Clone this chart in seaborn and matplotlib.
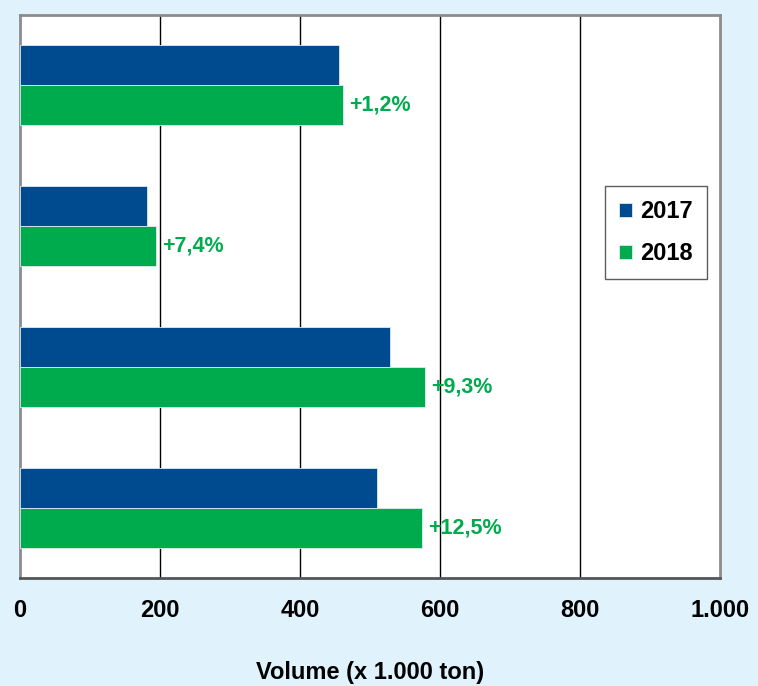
import pandas as pd
import matplotlib
matplotlib.use("Agg")
import matplotlib.pyplot as plt
import seaborn as sns

# Datos (de arriba hacia abajo)
categorias = ["cat1", "cat2", "cat3", "cat4"]
vol_2017 = [456, 181, 529, 510]
vol_2018 = [461, 194, 578, 574]
etiquetas = ["+1,2%", "+7,4%", "+9,3%", "+12,5%"]
ticks_x = [0, 200, 400, 600, 800, 1000]
ticks_txt = ["0", "200", "400", "600", "800", "1.000"]

azul = "#004A8F"
verde = "#00AB4E"
fondo = "#E0F2FC"

df = pd.DataFrame({
    "categoria": categorias * 2,
    "volumen": vol_2017 + vol_2018,
    "anio": ["2017"] * 4 + ["2018"] * 4,
})

sns.set_style("white")
plt.rcParams["font.family"] = ["Liberation Sans", "DejaVu Sans"]
plt.rcParams["font.weight"] = "bold"
plt.rcParams["text.color"] = "black"
plt.rcParams["xtick.color"] = "black"
plt.rcParams["axes.labelcolor"] = "black"

fig = plt.figure(figsize=(7.58, 6.86), dpi=100, facecolor=fondo)
ax = fig.add_axes([20 / 758, 1 - 578 / 686, 700 / 758, 563 / 686])
ax.set_facecolor("white")

sns.barplot(data=df, y="categoria", x="volumen", hue="anio", orient="h",
            palette=[azul, verde], saturation=1, width=0.57,
            edgecolor="#d8ecf4", linewidth=0.6, ax=ax, zorder=3)

# Etiquetas de crecimiento junto a las barras de 2018
for i, (v, t) in enumerate(zip(vol_2018, etiquetas)):
    ax.text(v + 9, i + 0.1425, t, color=verde, fontsize=15.5, fontweight="bold",
            va="center", ha="left", zorder=4)

ax.set_xlim(0, 1000)
ax.set_ylim(3.5, -0.5)
ax.set_xticks(ticks_x)
ax.set_xticklabels(ticks_txt, fontsize=17, fontweight="bold", color="black")
ax.set_yticks([])
ax.set_ylabel("")
ax.set_xlabel("Volume (x 1.000 ton)", fontsize=17, fontweight="bold",
              color="black", labelpad=28)
ax.tick_params(axis="x", direction="out", length=7, width=1, color="#333333", pad=8)

for x in ticks_x[1:-1]:
    ax.axvline(x, color="black", lw=1, zorder=1)

for lado in ["left", "top", "right"]:
    ax.spines[lado].set_color("#8c8c8c")
    ax.spines[lado].set_linewidth(2)
ax.spines["bottom"].set_color("#555555")
ax.spines["bottom"].set_linewidth(2)

leg = ax.legend(loc="upper left", bbox_to_anchor=(605 / 758, 1 - 186 / 686),
                bbox_transform=fig.transFigure, frameon=True, fancybox=False,
                edgecolor="#333333", fontsize=17, handlelength=0.55,
                handleheight=0.55, handletextpad=0.35, labelspacing=0.8,
                borderpad=0.6, borderaxespad=0, title=None)
leg.get_frame().set_linewidth(1)
for t in leg.get_texts():
    t.set_fontweight("bold")
    t.set_color("black")

fig.savefig("out.png", dpi=100, facecolor=fondo)
